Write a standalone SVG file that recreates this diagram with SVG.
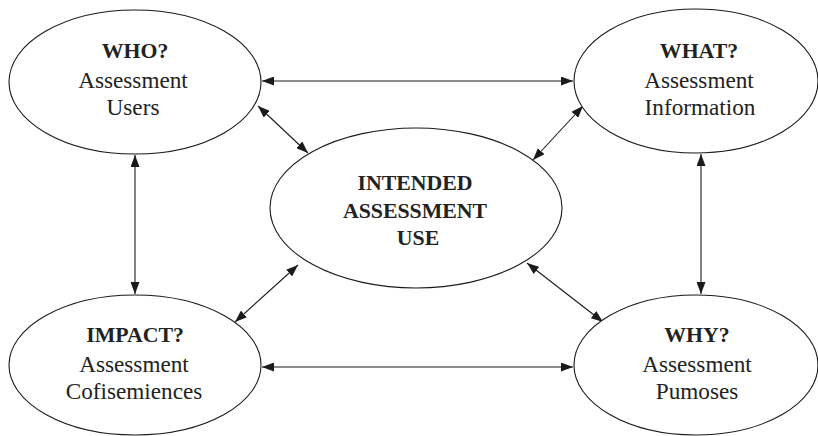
<svg xmlns="http://www.w3.org/2000/svg" width="818" height="436" viewBox="0 0 818 436">
<style>
.node ellipse{fill:#fff;stroke:#1a1a1a;stroke-width:1.1}
.node text{font-size:23.2px;fill:#222;text-anchor:middle}
.node text.b{font-weight:bold;font-size:21.8px}
.conn line{stroke:#1a1a1a;stroke-width:1.1;marker-start:url(#ah);marker-end:url(#ah)}
</style>
<defs>
<marker id="ah" viewBox="0 0 12 9" refX="12" refY="4.5" markerWidth="12" markerHeight="9" markerUnits="userSpaceOnUse" orient="auto-start-reverse">
<path d="M0,0 L12,4.5 L0,9 z" fill="#1a1a1a"/>
</marker>
</defs>
<rect width="818" height="436" fill="#fff"/>
<g class="conn" id="connectors">
<line x1="262" y1="81" x2="573" y2="81"/>
<line x1="262" y1="367" x2="573" y2="367"/>
<line x1="135" y1="155" x2="135" y2="294"/>
<line x1="701" y1="154" x2="701" y2="294"/>
<line x1="258" y1="106" x2="308" y2="153"/>
<line x1="583" y1="106" x2="533" y2="160"/>
<line x1="298" y1="265" x2="235" y2="322"/>
<line x1="527" y1="263" x2="603" y2="322"/>
</g>
<g font-family="Liberation Serif, Times New Roman, DejaVu Serif, serif">
<g class="node" id="who">
<ellipse cx="135" cy="82" rx="126" ry="72"/>
<text x="135" y="58" class="b">WHO?</text>
<text x="133" y="88">Assessment</text>
<text x="133" y="115">Users</text>
</g>
<g class="node" id="what">
<ellipse cx="696" cy="81" rx="122" ry="72"/>
<text x="699" y="58" class="b">WHAT?</text>
<text x="699" y="88">Assessment</text>
<text x="700" y="115">Information</text>
</g>
<g class="node" id="center">
<ellipse cx="416" cy="208" rx="146" ry="80"/>
<text x="415" y="190" class="b">INTENDED</text>
<text x="415" y="218" class="b">ASSESSMENT</text>
<text x="418" y="245" class="b">USE</text>
</g>
<g class="node" id="impact">
<ellipse cx="135" cy="365" rx="126" ry="70"/>
<text x="135" y="342" class="b">IMPACT?</text>
<text x="134" y="372">Assessment</text>
<text x="134" y="399">Cofisemiences</text>
</g>
<g class="node" id="why">
<ellipse cx="696" cy="365" rx="122" ry="70"/>
<text x="697" y="342" class="b">WHY?</text>
<text x="697" y="372">Assessment</text>
<text x="697" y="399">Pumoses</text>
</g>
</g>
</svg>
